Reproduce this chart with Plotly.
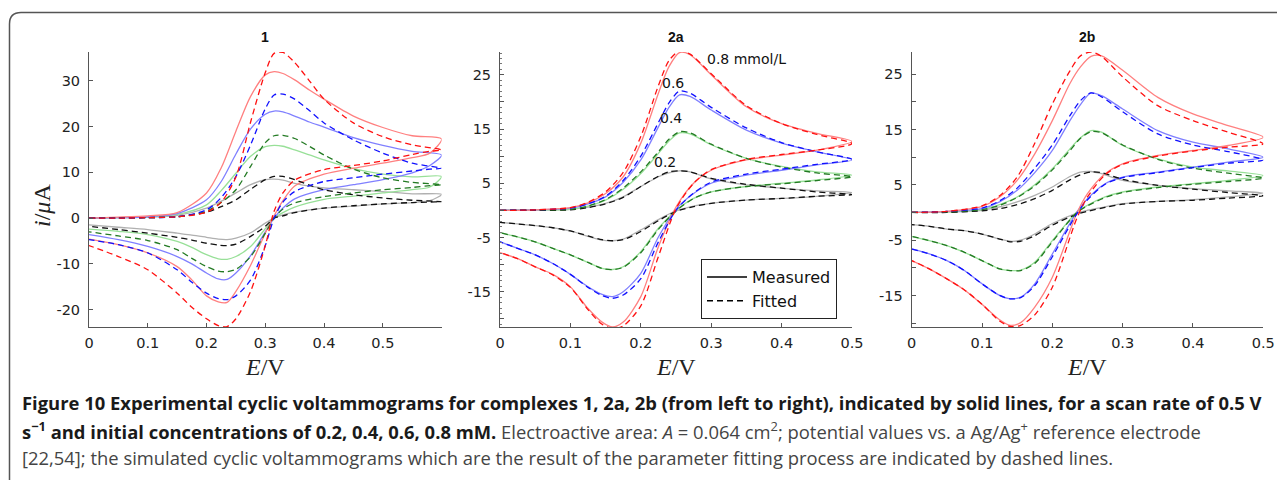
import plotly.graph_objects as go

W, H = 1285, 480
OFF = 8  # page body margin of the browser


def px(x):
    return (x - OFF) / W


def py(y):
    return 1 - (y - OFF) / H


# ---------------- Panel 1 ----------------
E1_fwd = [0, 0.05, 0.1, 0.15, 0.2, 0.225, 0.25, 0.275, 0.3, 0.315, 0.33, 0.35, 0.375, 0.4, 0.45, 0.5, 0.55, 0.6]
E1_rev = [0.58, 0.55, 0.5, 0.45, 0.4, 0.35, 0.33, 0.315, 0.3, 0.275, 0.25, 0.235, 0.22, 0.2, 0.175, 0.15, 0.1, 0.05, 0]

p1_08_meas = [0, 0.2, 0.5, 1.2, 5.5, 11, 19, 26.6, 31.3, 32, 31.6, 30.2, 28, 26, 22.3, 19.8, 18, 17.3] + \
             [14.2, 13.2, 12, 10.9, 9.6, 7, 3.8, 0.5, -3.3, -10.3, -16, -18.4, -18.3, -17, -13.5, -10.6, -7.6, -5.8, -4.6]
p1_08_fit = [0, 0, 0.1, 0.3, 1.3, 3.5, 9, 21, 31.8, 36, 36.2, 34, 30, 26, 20.8, 17.8, 16, 14.9] + \
            [14.6, 13.9, 12.5, 11.5, 10.6, 8.3, 5.5, 1.5, -6, -16, -22, -23.7, -23.5, -22, -19.5, -16.4, -11.3, -8.4, -6]
p1_06_meas = [0, 0.1, 0.3, 1, 4, 8, 14, 19.5, 22.7, 23.4, 23.2, 22.3, 21, 19.9, 17.6, 15.9, 14.6, 13.8] + \
             [11.5, 9.9, 8.4, 7.3, 6.2, 4.2, 2.2, 0, -3, -8.2, -12, -13.4, -13.3, -12, -10, -8.4, -6.2, -4.7, -3.6]
p1_06_fit = [0, 0, 0.1, 0.3, 1.8, 4.5, 9.1, 16, 23.9, 26.9, 27.1, 26, 23.5, 20.8, 17.1, 14.2, 12, 10.9] + \
            [10.7, 10.3, 9.6, 8.8, 8, 5.8, 3.5, 0, -6, -13.5, -17, -17.8, -17.6, -16.4, -14, -11.3, -7.6, -5.8, -4.7]
p1_04_meas = [0, 0.1, 0.2, 0.8, 2.9, 6, 9.8, 13.5, 15.6, 15.9, 15.7, 14.9, 13.8, 12.7, 10.8, 9.6, 9, 9.1] + \
             [6.8, 6.2, 5.5, 4.8, 4.1, 2.4, 1.2, 0, -2.3, -6.2, -8.4, -9, -8.9, -8, -6.4, -5.1, -3.6, -2.9, -2.4]
p1_04_fit = [0, 0, 0.1, 0.3, 1.5, 3.4, 6.2, 11.3, 16.5, 18, 18.1, 17.4, 15.7, 13.8, 10.7, 8.8, 7.8, 7.3] + \
            [7.1, 6.7, 6.2, 5.5, 4.7, 3.3, 2, 0, -3.3, -8.4, -11.2, -11.7, -11.6, -10.6, -8.8, -6.9, -4.9, -3.9, -3]
p1_02_meas = [0, 0.1, 0.2, 0.6, 2.2, 3.7, 5.5, 7.3, 8.4, 8.5, 8.3, 7.6, 7, 6.6, 6.2, 5.8, 5.3, 5.2] + \
             [3.8, 3.4, 3.1, 2.6, 2.2, 1.3, 0.7, 0, -1.1, -3.2, -4.4, -4.7, -4.6, -4.2, -3.7, -3.3, -2.5, -2, -1.5]
p1_02_fit = [0, 0, 0.1, 0.3, 1.3, 2.5, 4, 6.3, 8.4, 9.1, 9.1, 8.4, 7.2, 6.2, 5.1, 4.4, 3.9, 3.6] + \
            [3.5, 3.4, 3.1, 2.7, 2.2, 1.2, 0.5, 0, -1.8, -4, -5.7, -6, -5.9, -5.5, -4.8, -4.2, -3.3, -2.5, -1.8]

# ---------------- Panel 2a ----------------
E2a_fwd = [0, 0.05, 0.1, 0.125, 0.15, 0.175, 0.2, 0.225, 0.24, 0.255, 0.27, 0.3, 0.35, 0.4, 0.45, 0.5]
E2a_rev = [0.45, 0.4, 0.35, 0.3, 0.275, 0.25, 0.225, 0.2, 0.175, 0.16, 0.145, 0.125, 0.1, 0.075, 0.05, 0.025, 0]

p2a_08_meas = [0, 0.1, 0.5, 1.4, 3.1, 6.2, 12.4, 21.6, 26.5, 29.1, 28.7, 25, 19.1, 16, 14.2, 12.7] + \
              [11.1, 10.2, 9.3, 7.4, 5, 0.6, -6.7, -15.9, -20.6, -21.5, -20.6, -18.1, -14.1, -11.8, -10.4, -8.9, -7.8]
p2a_08_fit = [0, 0.1, 0.5, 1.5, 3.4, 7, 13.6, 23, 27.6, 29.4, 28.8, 25.2, 19.3, 16, 14, 12.3] + \
             [11.1, 10.3, 9.4, 7.5, 5, 0.3, -8.5, -17.6, -21.3, -21.8, -21, -18.3, -14.2, -11.9, -10.4, -8.9, -7.8]
p2a_06_meas = [0, 0.1, 0.4, 1.2, 2.5, 5.2, 9.3, 15.4, 19, 21.3, 21, 18.5, 14.8, 12.4, 10.8, 9.3] + \
              [8.4, 7.4, 6.5, 5, 3.1, 0.2, -4.9, -11.6, -15, -15.9, -15.5, -14.1, -11.8, -9.8, -8.2, -7, -5.8]
p2a_06_fit = [0, 0.1, 0.4, 1.2, 2.6, 5.5, 10, 16.2, 19.8, 22, 21.6, 19, 15.2, 12.5, 10.8, 9.4] + \
             [8.5, 7.6, 6.7, 5.2, 3.2, 0, -5.8, -12.6, -15.6, -16.2, -15.7, -14.2, -11.8, -9.8, -8.2, -7, -5.8]
p2a_04_meas = [0, 0.1, 0.2, 0.8, 1.9, 3.9, 6.8, 10.5, 12.8, 14.3, 14.1, 12.1, 9.6, 8.1, 7.1, 6.5] + \
              [5.6, 5, 4.4, 3.4, 2.2, 0, -3.3, -7.6, -10.4, -10.9, -10.7, -9.6, -8.2, -7, -5.8, -4.9, -4.1]
p2a_04_fit = [0, 0.1, 0.2, 0.8, 2, 4.1, 7.1, 10.8, 13.1, 14.5, 14.3, 12.2, 9.6, 8, 6.9, 6.2] + \
             [5.5, 4.9, 4.4, 3.4, 2.2, -0.1, -3.5, -7.8, -10.5, -10.9, -10.7, -9.6, -8.2, -7, -5.8, -4.9, -4.1]
p2a_02_meas = [0, 0.1, 0.2, 0.6, 1.3, 2.5, 4.4, 6.2, 6.9, 7.3, 7.1, 5.8, 4.7, 4.1, 3.6, 3.3] + \
              [2.6, 2.2, 1.9, 1.3, 0.8, -0.1, -1.7, -3.6, -5.3, -5.6, -5.5, -4.8, -3.8, -3.2, -2.8, -2.5, -2.2]
p2a_02_fit = [0, 0, 0.1, 0.5, 1.2, 2.4, 4.4, 6.3, 7.1, 7.3, 7.1, 5.9, 4.8, 4.1, 3.4, 2.9] + \
             [2.6, 2.2, 1.9, 1.3, 0.7, -0.2, -1.9, -3.9, -5.4, -5.6, -5.4, -4.7, -3.8, -3.2, -2.8, -2.5, -2.2]

# ---------------- Panel 2b ----------------
E2b_fwd = [0, 0.05, 0.1, 0.125, 0.15, 0.175, 0.2, 0.225, 0.24, 0.255, 0.27, 0.3, 0.35, 0.4, 0.45, 0.5]
E2b_rev = [0.45, 0.4, 0.35, 0.3, 0.275, 0.25, 0.235, 0.2, 0.175, 0.155, 0.14, 0.125, 0.1, 0.075, 0.05, 0.025, 0]

p2b_08_meas = [0, 0.2, 1.1, 2.8, 5.8, 10.6, 16.6, 23.3, 26.3, 28.2, 28.3, 25.7, 20.8, 17.8, 15.7, 13.6] + \
              [12.1, 11.2, 10.3, 8.8, 7, 3.4, -0.1, -11.7, -17.1, -19.9, -20.4, -19.4, -16.6, -14, -12, -10.2, -8.7]
p2b_08_fit = [0, 0.2, 1.2, 3, 6.4, 12.5, 19.6, 25.6, 28.3, 29, 28.2, 24.5, 19.3, 16.6, 14.5, 12.4] + \
             [11.8, 11.1, 10.2, 8.7, 6.8, 2.8, -1, -13.5, -18.5, -20.4, -20.6, -19.6, -16.6, -14, -12, -10.2, -8.7]
p2b_06_meas = [0, 0.2, 0.7, 1.9, 4, 7.2, 11.2, 16.6, 19.5, 21.6, 21.1, 18.7, 14.8, 12.7, 11.5, 10] + \
              [9.1, 8.2, 7.3, 6.4, 5.2, 2.5, 0.1, -7.5, -12.9, -15.3, -15.6, -15, -12.9, -10.5, -8.7, -7.5, -6.6]
p2b_06_fit = [0, 0.2, 0.8, 2.1, 4.4, 8, 12.2, 17.5, 20.2, 21.6, 20.9, 18.2, 14.2, 12.2, 11, 9.5] + \
             [8.9, 8.1, 7.2, 6.3, 5.1, 2.3, -0.2, -8, -13.2, -15.4, -15.6, -15, -12.9, -10.5, -8.7, -7.5, -6.6]
p2b_04_meas = [0, 0.1, 0.5, 1.4, 2.8, 5, 7.9, 11.5, 13.5, 14.8, 14.5, 12.1, 9.7, 8.2, 7.5, 6.7] + \
              [5.8, 5.2, 4.6, 3.7, 2.8, 1.3, 0.1, -5.1, -9, -10.4, -10.5, -10.2, -8.7, -7.2, -6, -5.1, -4.3]
p2b_04_fit = [0, 0.1, 0.5, 1.3, 2.7, 4.8, 7.7, 11.2, 13.4, 14.6, 14.4, 12.2, 9.6, 8, 7.1, 6.2] + \
             [5.6, 5.1, 4.5, 3.6, 2.7, 1.2, 0, -5.3, -9.2, -10.5, -10.5, -10.2, -8.7, -7.2, -6, -5.1, -4.3]
p2b_02_meas = [0, 0.1, 0.4, 1, 1.9, 3.1, 4.6, 6.5, 7.3, 7.4, 7, 5.8, 4.9, 4.3, 3.9, 3.5] + \
              [2.8, 2.3, 2, 1.6, 1, 0.4, -0.1, -2, -3.9, -5, -5.2, -4.8, -3.9, -3.3, -3, -2.5, -2.2]
p2b_02_fit = [0, 0, 0.3, 0.7, 1.4, 2.5, 4, 5.9, 6.8, 7.3, 7.2, 6, 4.9, 4.2, 3.6, 3] + \
             [2.6, 2.2, 2, 1.5, 0.9, 0.2, -0.3, -2.3, -4.2, -5.2, -5.3, -4.8, -3.9, -3.3, -3, -2.5, -2.2]

conc_labels = ["0.8 mmol/L", "0.6", "0.4", "0.2"]
panel_titles = ["1", "2a", "2b"]
x_ticks = [0, 0.1, 0.2, 0.3, 0.4, 0.5]
y_ticks_1 = [-20, -10, 0, 10, 20, 30]
y_ticks_2 = [-20, -15, -10, -5, 0, 5, 10, 15, 20, 25]
y_labels_2 = ["", "-15", "", "-5", "", "5", "", "15", "", "25"]

meas_colors = ["#ff8080", "#8080ff", "#98e098", "#b0b0b0"]
fit_colors = ["#ff1010", "#1010ff", "#237a23", "#111111"]

panels = [
    ("x", "y", E1_fwd + E1_rev, [p1_08_meas, p1_06_meas, p1_04_meas, p1_02_meas],
     [p1_08_fit, p1_06_fit, p1_04_fit, p1_02_fit]),
    ("x2", "y2", E2a_fwd + E2a_rev, [p2a_08_meas, p2a_06_meas, p2a_04_meas, p2a_02_meas],
     [p2a_08_fit, p2a_06_fit, p2a_04_fit, p2a_02_fit]),
    ("x3", "y3", E2b_fwd + E2b_rev, [p2b_08_meas, p2b_06_meas, p2b_04_meas, p2b_02_meas],
     [p2b_08_fit, p2b_06_fit, p2b_04_fit, p2b_02_fit]),
]

fig = go.Figure()
for xa, ya, E, meas, fits in panels:
    for k in [3, 2, 1, 0]:
        fig.add_trace(go.Scatter(x=E, y=meas[k], xaxis=xa, yaxis=ya, mode="lines",
                                 line=dict(color=meas_colors[k], width=1.3, shape="spline", smoothing=0.8),
                                 showlegend=False, hoverinfo="skip"))
    for k in [3, 2, 1, 0]:
        fig.add_trace(go.Scatter(x=E, y=fits[k], xaxis=xa, yaxis=ya, mode="lines",
                                 line=dict(color=fit_colors[k], width=1.3, dash="6px,4px",
                                           shape="spline", smoothing=0.8),
                                 showlegend=False, hoverinfo="skip"))

# legend entries
fig.add_trace(go.Scatter(x=[None], y=[None], xaxis="x2", yaxis="y2", mode="lines", name="Measured",
                         line=dict(color="black", width=1.5)))
fig.add_trace(go.Scatter(x=[None], y=[None], xaxis="x2", yaxis="y2", mode="lines", name="Fitted",
                         line=dict(color="black", width=1.5, dash="6px,4px")))

tickfont = dict(family="DejaVu Sans", size=14.5, color="#222")
axis_common = dict(showline=True, linecolor="#555", linewidth=1, ticks="inside", ticklen=4,
                   tickcolor="#555", showgrid=False, zeroline=False, tickfont=tickfont,
                   automargin=False)

doms_x = [(89, 441.6), (500, 852), (911.7, 1263.3)]
top, bot = 52, 327
ranges_y = [[-23.8, 36.3], [-21.5, 29.2], [-20.7, 29.0]]
ranges_x = [[0, 0.6], [0, 0.5], [0, 0.5]]

layout = dict(width=W, height=H, margin=dict(l=0, r=0, t=0, b=0, pad=0, autoexpand=False),
              paper_bgcolor="white", plot_bgcolor="white")
for i in range(3):
    sx = "" if i == 0 else str(i + 1)
    layout["xaxis" + sx] = dict(axis_common, domain=[px(doms_x[i][0]), px(doms_x[i][1])],
                                range=ranges_x[i], anchor="y" + sx, tickvals=x_ticks,
                                ticktext=[("%g" % v) for v in x_ticks], ticklabelstandoff=3)
    if i == 0:
        yt, yl = y_ticks_1, [str(v) for v in y_ticks_1]
    else:
        yt, yl = y_ticks_2, y_labels_2
    layout["yaxis" + sx] = dict(axis_common, domain=[py(bot), py(top)], range=ranges_y[i],
                                anchor="x" + sx, tickvals=yt, ticktext=yl, ticklabelstandoff=5)
layout["yaxis2"]["minor"] = dict(ticks="inside", ticklen=2, dtick=1, tickcolor="#777")

layout["legend"] = dict(x=px(701), y=py(259), xanchor="left", yanchor="top",
                        bordercolor="#222", borderwidth=1, bgcolor="white",
                        font=dict(family="DejaVu Sans", size=16, color="#111"),
                        tracegroupgap=0, itemwidth=40)
fig.update_layout(**layout)

ann = []


def label(x, y, text, font, xanchor="center", yanchor="middle", **kw):
    ann.append(dict(x=px(x), y=py(y), xref="paper", yref="paper", text=text, showarrow=False,
                    xanchor=xanchor, yanchor=yanchor, font=font, **kw))


centers = [265, 676, 1087]
for i in range(3):
    label(centers[i], 37, "<b>%s</b>" % panel_titles[i], dict(family="Liberation Sans", size=14, color="#111"))
    label(centers[i], 367, "<i>E</i>/V", dict(family="Liberation Serif", size=24, color="#222"))
label(42, 206, "<i>i</i>/<i>μ</i>A", dict(family="Liberation Serif", size=24, color="#222"), textangle=-90)

conc_pos = [(705, 59, "left"), (673, 83, "center"), (671, 118, "center"), (665, 162, "center")]
for (cx, cy, anc), lab in zip(conc_pos, conc_labels):
    label(cx, cy, lab, dict(family="DejaVu Sans", size=14, color="#111"), xanchor=anc)

cap_font = dict(family="Open Sans", size=18.4, color="#1a1a1a")
cap_lines = [
    (402, "<b>Figure 10 Experimental cyclic voltammograms for complexes 1, 2a, 2b (from left to right), "
          "indicated by solid lines, for a scan rate of 0.5 V</b>"),
    (430, "<b>s<sup>−1</sup> and initial concentrations of 0.2, 0.4, 0.6, 0.8 mM.</b>"
          "<span style='color:#444'> Electroactive area: <i>A</i> = 0.064 cm<sup>2</sup>; potential values vs. "
          "a Ag/Ag<sup>+</sup> reference electrode</span>"),
    (457, "<span style='color:#444'>[22,54]; the simulated cyclic voltammograms which are the result of the "
          "parameter fitting process are indicated by dashed lines.</span>"),
]
for cy, txt in cap_lines:
    label(20, cy, txt, cap_font, xanchor="left", align="left")

fig.update_layout(annotations=ann)

border = "M %f,%f L %f,%f Q %f,%f %f,%f L %f,%f" % (
    px(9.5), py(495), px(9.5), py(24), px(9.5), py(12.5), px(21), py(12.5), px(1300), py(12.5))
fig.add_shape(type="path", path=border, xref="paper", yref="paper",
              line=dict(color="#555", width=1.5))

fig.write_html("out.html")
